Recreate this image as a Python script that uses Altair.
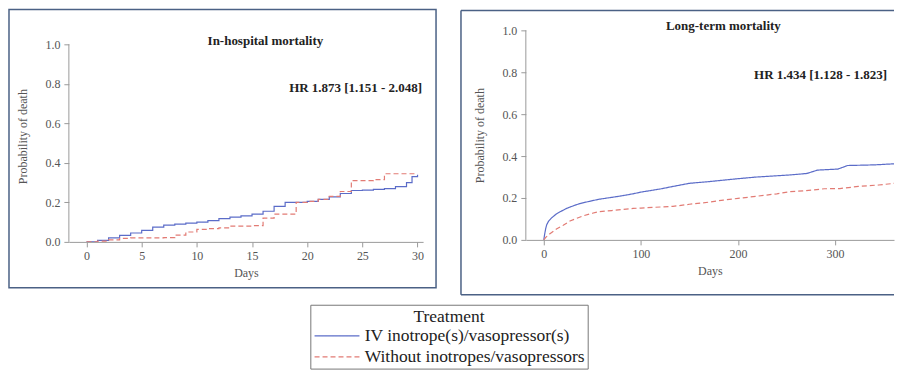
import altair as alt
import pandas as pd

# ---------------- data ----------------
SERIES = ["IV inotrope(s)/vasopressor(s)", "Without inotropes/vasopressors"]
COLORS = ["#5b6cc8", "#e27b74"]
DASHES = [[1, 0], [5, 3]]

# In-hospital mortality (days 0-30), Kaplan-Meier steps
ih_days_iv = [0, 1, 2, 3, 4, 5, 6, 7, 8, 9, 10, 11, 12, 13, 14, 15, 16, 17, 18, 19,
              20, 21, 22, 23, 24, 25, 26, 27, 28, 29, 29.5, 30]
ih_prob_iv = [0, 0.008, 0.02, 0.033, 0.045, 0.058, 0.075, 0.085, 0.09, 0.095, 0.1, 0.108,
              0.118, 0.125, 0.132, 0.14, 0.155, 0.18, 0.2, 0.2, 0.205, 0.215, 0.228, 0.245,
              0.26, 0.262, 0.266, 0.27, 0.28, 0.3, 0.33, 0.34]
ih_days_wo = [0, 1, 2, 3, 4, 7, 8, 9, 10, 11, 12, 13, 15, 16, 17, 19, 20, 21, 22, 23,
              24, 26, 27, 30]
ih_prob_wo = [0, 0.004, 0.01, 0.018, 0.02, 0.022, 0.034, 0.05, 0.063, 0.067, 0.071, 0.08,
              0.082, 0.12, 0.14, 0.2, 0.205, 0.215, 0.23, 0.255, 0.31, 0.315, 0.345, 0.345]

# Long-term mortality (days 0-372)
lt_days_iv = [0, 1, 2, 3, 5, 8, 13, 18, 23, 30, 37, 46, 57, 70, 80, 92, 100, 120, 133, 150,
              170, 185, 200, 219, 240, 254, 271, 282, 303, 313, 341, 372]
lt_prob_iv = [0, 0.03, 0.055, 0.072, 0.09, 0.105, 0.124, 0.137, 0.149, 0.162, 0.173, 0.183,
              0.194, 0.203, 0.21, 0.22, 0.228, 0.243, 0.255, 0.27, 0.278, 0.285, 0.292, 0.3,
              0.306, 0.31, 0.317, 0.333, 0.338, 0.355, 0.358, 0.366]
lt_days_wo = [0, 2, 6, 13, 20, 27, 40, 50, 57, 70, 92, 100, 120, 133, 150, 170, 185, 200,
              219, 240, 254, 270, 289, 305, 324, 345, 372]
lt_prob_wo = [0, 0.012, 0.028, 0.052, 0.07, 0.09, 0.114, 0.127, 0.135, 0.14, 0.15, 0.152,
              0.157, 0.16, 0.17, 0.18, 0.19, 0.198, 0.208, 0.22, 0.23, 0.235, 0.244, 0.245,
              0.255, 0.262, 0.275]

IH_TICKS = [0, 5, 10, 15, 20, 25, 30]
LT_TICKS = [0, 100, 200, 300]
Y_TICKS = [0, 0.2, 0.4, 0.6, 0.8, 1.0]

IH_TITLE = "In-hospital mortality"
IH_HR = "HR 1.873 [1.151 - 2.048]"
LT_TITLE = "Long-term mortality"
LT_HR = "HR 1.434 [1.128 - 1.823]"

# ---------------- styling ----------------
FONT = "Liberation Serif"
AX = "#9a9a9a"
LBL = "#555555"
BOX = "#4b6185"


def frame(days, probs, name):
    return pd.DataFrame({"day": days, "prob": probs, "group": name})


df_ih = pd.concat([frame(ih_days_iv, ih_prob_iv, SERIES[0]),
                   frame(ih_days_wo, ih_prob_wo, SERIES[1])])
df_lt = pd.concat([frame(lt_days_iv, lt_prob_iv, SERIES[0]),
                   frame(lt_days_wo, lt_prob_wo, SERIES[1])])
one = pd.DataFrame({"k": [0]})

legend = alt.Legend(title="Treatment", orient="none", legendX=242, legendY=275)
color = alt.Color("group:N", scale=alt.Scale(domain=SERIES, range=COLORS), legend=legend)
dash = alt.StrokeDash("group:N", scale=alt.Scale(domain=SERIES, range=DASHES), legend=legend)


def panel(df, xdom, ydom, xticks, title, title_x, title_y, hr, hr_x, hr_y, interp):
    xs = alt.Scale(domain=xdom, nice=False, zero=False)
    ys = alt.Scale(domain=ydom, nice=False, zero=False)
    yaxis = alt.Axis(values=Y_TICKS, format=".1f", title="Probability of death",
                     domain=False, labelPadding=4, titlePadding=15)
    lines = alt.Chart(df).mark_line(interpolate=interp, strokeWidth=1.2, clip=True).encode(
        x=alt.X("day:Q", scale=xs,
                axis=alt.Axis(values=xticks, title="Days", labelPadding=4, titlePadding=6)),
        y=alt.Y("prob:Q", scale=ys, axis=yaxis),
        color=color,
        strokeDash=dash,
        order="day:Q",
    )
    yline = alt.Chart(one).mark_rule(color=AX, strokeWidth=1).encode(
        x=alt.value(0),
        y=alt.Y(datum=0, scale=ys, axis=yaxis),
        y2=alt.Y2(datum=1.0),
    )
    ttl = alt.Chart(pd.DataFrame({"t": [title]})).mark_text(
        font=FONT, fontSize=13, fontWeight="bold", color="#222", align="center",
        baseline="middle").encode(x=alt.value(title_x), y=alt.value(title_y), text="t:N")
    hrt = alt.Chart(pd.DataFrame({"t": [hr]})).mark_text(
        font=FONT, fontSize=13, fontWeight="bold", color="#222", align="right",
        baseline="middle").encode(x=alt.value(hr_x), y=alt.value(hr_y), text="t:N")
    return [lines, yline, ttl, hrt]


# left panel: plot origin page (68, 29); 1.0 at 198px
W1, H1 = 355, 212
left_layers = panel(df_ih, [-1.6, 30.5], [0, H1 / 198.0], IH_TICKS,
                    IH_TITLE, 197, 11, IH_HR, 354, 58, "step-after")
left_box = alt.Chart(one).mark_rect(fillOpacity=0, stroke=BOX, strokeWidth=1.5).encode(
    x=alt.value(-60), x2=alt.value(368), y=alt.value(-21), y2=alt.value(258))
left = alt.layer(*left_layers, left_box).properties(width=W1, height=H1)

# right panel: plot origin page (526, 29); 0.973 px/day
W2, H2 = 369, 210
right_layers = panel(df_lt, [-18.5, -18.5 + W2 / 0.973], [0, 1.0], LT_TICKS,
                     LT_TITLE, 198, -4, LT_HR, 362, 45, "linear")
rb_top = alt.Chart(one).mark_rule(color=BOX, strokeWidth=1.5).encode(
    x=alt.value(-65), x2=alt.value(W2), y=alt.value(-20))
rb_bot = alt.Chart(one).mark_rule(color=BOX, strokeWidth=1.5).encode(
    x=alt.value(-65), x2=alt.value(W2), y=alt.value(265))
rb_left = alt.Chart(one).mark_rule(color=BOX, strokeWidth=1.5).encode(
    x=alt.value(-65), y=alt.value(-20), y2=alt.value(265))
right = alt.layer(*right_layers, rb_top, rb_bot, rb_left).properties(width=W2, height=H2)

chart = alt.hconcat(left, right, spacing=103).properties(
    bounds="flush", padding=0
).configure_view(stroke=None).configure_axis(
    grid=False, domainColor=AX, tickColor=AX, tickSize=5, labelColor=LBL,
    labelFont=FONT, labelFontSize=12, titleFont=FONT, titleFontSize=12,
    titleFontWeight="normal", titleColor=LBL,
).configure_legend(
    titleFont=FONT, titleFontSize=17.5, titleFontWeight="normal", titleColor="#222",
    titleAnchor="middle", titlePadding=2,
    labelFont=FONT, labelFontSize=17.5, labelColor="#222", labelOffset=34, labelLimit=0,
    symbolType="M-1,0L5,0", symbolSize=225, symbolStrokeWidth=1.2,
    padding=3, strokeColor="#777", fillColor="white", rowPadding=2,
)

chart.save("out.html", embed_options={"renderer": "svg", "actions": False})
